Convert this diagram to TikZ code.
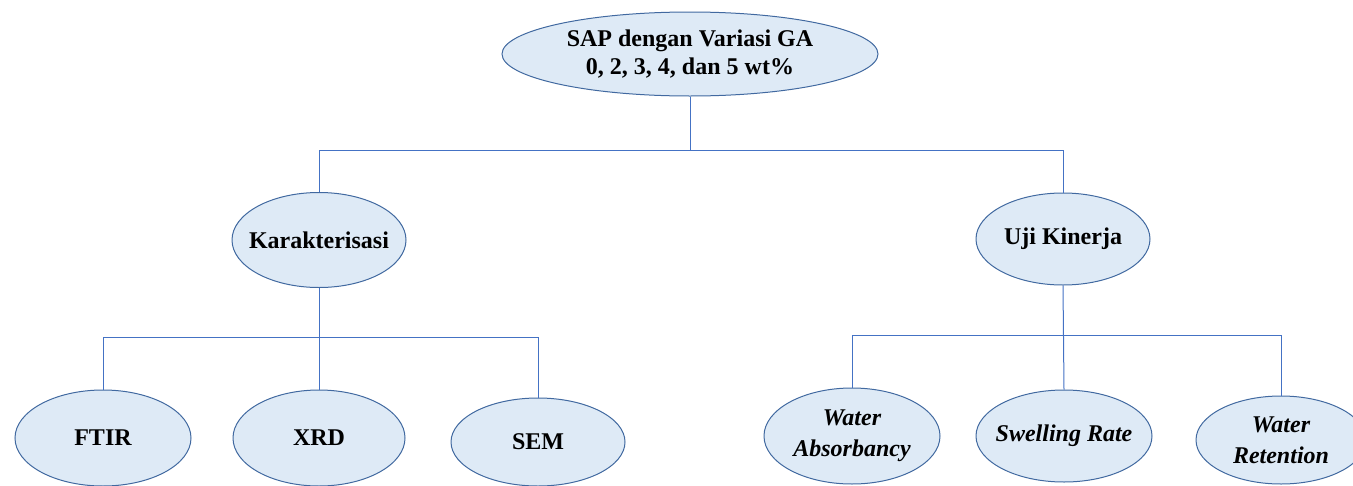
\documentclass[tikz,border=0pt]{standalone}
\usepackage{fontspec}
\setmainfont{LiberationSerif}[Extension=.ttf, UprightFont=*-Regular, BoldFont=*-Bold, ItalicFont=*-Italic, BoldItalicFont=*-BoldItalic]
\usetikzlibrary{shapes.geometric}
\definecolor{efill}{RGB}{222,234,246}
\definecolor{edraw}{RGB}{65,105,160}
\definecolor{lcol}{RGB}{68,114,196}
\tikzset{
  bub/.style={ellipse, draw=edraw, line width=1pt, fill=efill, inner xsep=-14pt, inner ysep=0pt, align=center,
    font=\fontsize{24}{28}\selectfont\bfseries},
  itbub/.style={bub, font=\fontsize{24}{31}\selectfont\bfseries\itshape},
  link/.style={draw=lcol, line width=1pt}
}
\begin{document}
\begin{tikzpicture}[x=1pt,y=-1pt]
\useasboundingbox (0,0) rectangle (1353,485);
\node[bub, minimum width=376, minimum height=84] (sap) at (690,54) {SAP dengan Variasi GA\\0, 2, 3, 4, dan 5 wt\%};
\node[bub, minimum width=174, minimum height=95] (kar) at (319,240) {Karakterisasi};
\node[bub, minimum width=174, minimum height=92] (uji) at (1063,239) {Uji Kinerja};
\node[bub, minimum width=176, minimum height=96] (ftir) at (103,438) {FTIR};
\node[bub, minimum width=172, minimum height=96] (xrd) at (319,438) {XRD};
\node[bub, minimum width=174, minimum height=88] (sem) at (538,442) {SEM};
\node[itbub, minimum width=176, minimum height=96] (wa) at (852,436) {Water\\Absorbancy};
\node[itbub, minimum width=176, minimum height=92] (sr) at (1064,436) {Swelling Rate};
\node[itbub, minimum width=170, minimum height=88] (wr) at (1281,440) {Water\\Retention};
\coordinate (top) at (690,150);
\coordinate (kbar) at (319,337);
\coordinate (ubar) at (1063,335);
\draw[link] (sap.south) -- (top);
\draw[link] (top) -| (kar.north);
\draw[link] (top) -| (uji.north);
\draw[link] (kar.south) -- (xrd.north);
\draw[link] (kbar) -| (ftir.north);
\draw[link] (kbar) -| (sem.north);
\draw[link] (uji.south) -- (sr.north);
\draw[link] (ubar) -| (wa.north);
\draw[link] (ubar) -| (wr.north);
\end{tikzpicture}
\end{document}
